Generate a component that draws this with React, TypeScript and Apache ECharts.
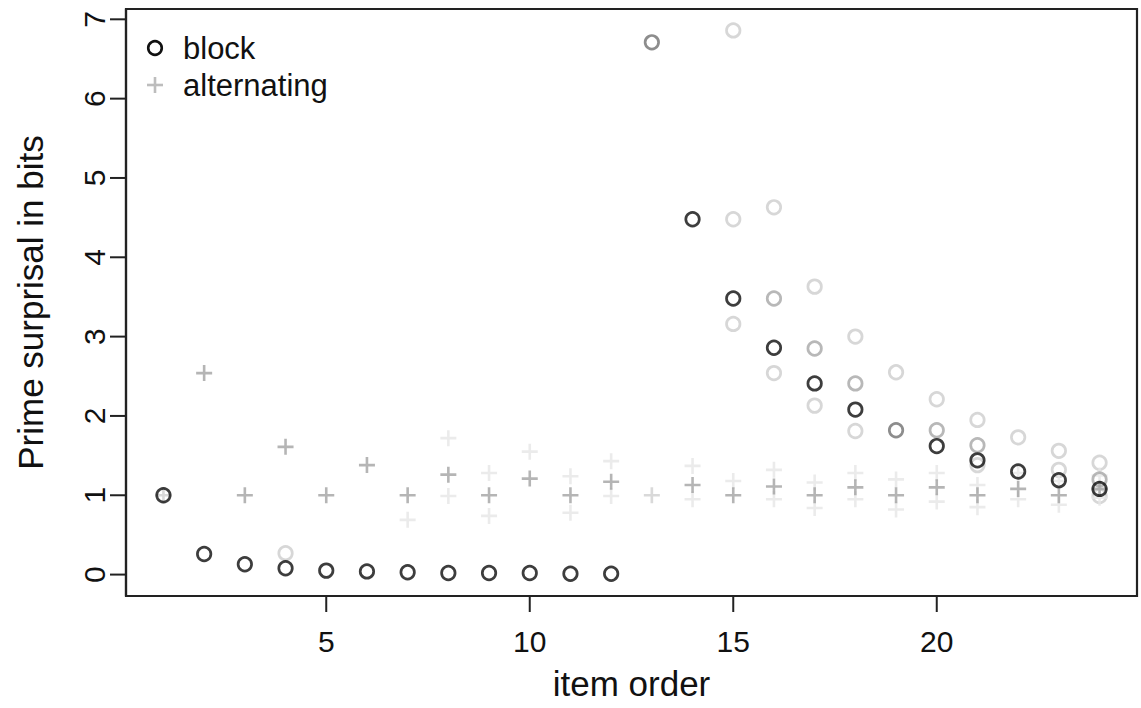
import React, { useEffect, useRef } from "react";
import * as echarts from "echarts";

// ---- data ----
const itemOrder = [1, 2, 3, 4, 5, 6, 7, 8, 9, 10, 11, 12, 13, 14, 15, 16, 17, 18, 19, 20, 21, 22, 23, 24];
// block condition, mean prime surprisal per item order
const blockValues = [1.0, 0.26, 0.13, 0.08, 0.05, 0.04, 0.03, 0.02, 0.02, 0.02, 0.01, 0.01, 6.71, 4.48, 3.48, 2.86, 2.41, 2.08, 1.82, 1.62, 1.44, 1.3, 1.19, 1.08];
// item orders where the block mark is drawn fainter (fewer overlapping lists)
const blockFaintOrders = [13, 19];
// block condition, other lists (medium grey circles) [item order, value]
const blockOtherMid = [[16, 3.48], [17, 2.85], [18, 2.41], [20, 1.82], [21, 1.63], [24, 1.2]];
// block condition, other lists (light grey circles)
const blockOtherLight = [
  [4, 0.27], [15, 6.86], [15, 4.48], [15, 3.16], [16, 4.63], [16, 2.54], [17, 3.63], [17, 2.13],
  [18, 3.0], [18, 1.81], [19, 2.55], [20, 2.21], [21, 1.95], [21, 1.38], [22, 1.73], [23, 1.56],
  [23, 1.32], [24, 1.41], [24, 0.99],
];
// alternating condition, mean per item order
const alternatingValues = [1.0, 2.54, 1.0, 1.61, 1.0, 1.38, 1.0, 1.26, 1.0, 1.21, 1.0, 1.17, 1.0, 1.13, 1.0, 1.11, 1.0, 1.1, 1.0, 1.1, 1.0, 1.08, 1.0, 1.08];
const alternatingLightOrders = [1, 13];
// alternating condition, other lists (faint crosses)
const alternatingOther = [
  [7, 0.69], [8, 1.72], [8, 0.99], [9, 1.28], [9, 0.74], [10, 1.55], [11, 1.24], [11, 0.78],
  [12, 1.43], [12, 0.99], [14, 1.37], [14, 0.95], [15, 1.18], [16, 1.32], [16, 0.95], [17, 1.16],
  [17, 0.84], [18, 1.28], [18, 0.95], [19, 1.2], [19, 0.82], [20, 1.28], [20, 0.92], [21, 1.13],
  [21, 0.85], [22, 1.28], [22, 0.95], [23, 1.18], [23, 0.88], [24, 1.25], [24, 0.97],
];
const xTicks = [5, 10, 15, 20];
const yTicks = [0, 1, 2, 3, 4, 5, 6, 7];

const X_MIN = 0.08;
const X_MAX = 24.92;
const Y_MIN = -0.27;
const Y_MAX = 7.13;

const FONT = "'Liberation Sans', Arial, Helvetica, sans-serif";
const PLUS = "path://M6.7,0H9.3V6.7H16V9.3H9.3V16H6.7V9.3H0V6.7H6.7Z";
const TICK_LEN = 16;

export default function App() {
  const ref = useRef<HTMLDivElement>(null);
  useEffect(() => {
    if (!ref.current) return;
    const chart = echarts.init(ref.current, null, { renderer: "svg" });
    const circleStyle = (c: string) => ({ color: "rgba(0,0,0,0)", borderColor: c, borderWidth: 2.7 });
    const blockData = itemOrder.map((x, i) => {
      const faint = blockFaintOrders.indexOf(x) >= 0;
      return { value: [x, blockValues[i]], itemStyle: circleStyle(faint ? "#707070" : "#0d0d0d") };
    });
    const altData = itemOrder.map((x, i) => {
      const light = alternatingLightOrders.indexOf(x) >= 0;
      return { value: [x, alternatingValues[i]], itemStyle: { color: light ? "#cfcfcf" : "#a3a3a3" } };
    });
    const textStyle = { fontFamily: FONT, fontSize: 31, fill: "#111" };
    const axisLine = { show: true, onZero: false, lineStyle: { color: "#222", width: 2.2 } };
    const legendGraphics = [
      { type: "circle", shape: { cx: 155, cy: 48, r: 6.8 }, style: { fill: "none", stroke: "#111", lineWidth: 2.6 }, z: 10 },
      { type: "text", x: 183, y: 48, style: { ...textStyle, text: "block", verticalAlign: "middle" }, z: 10 },
      { type: "rect", shape: { x: 147, y: 83.7, width: 16, height: 2.6 }, style: { fill: "#bdbdbd" }, z: 10 },
      { type: "rect", shape: { x: 153.7, y: 77, width: 2.6, height: 16 }, style: { fill: "#bdbdbd" }, z: 10 },
      { type: "text", x: 183, y: 85, style: { ...textStyle, text: "alternating", verticalAlign: "middle" }, z: 10 },
    ];
    chart.setOption({
      animation: false,
      backgroundColor: "#ffffff",
      grid: { left: 126, right: 4, top: 9, bottom: 112, show: true, borderColor: "#222", borderWidth: 2.2 },
      xAxis: {
        type: "value",
        min: X_MIN,
        max: X_MAX,
        name: "item order",
        nameLocation: "middle",
        nameGap: 70,
        nameTextStyle: { fontFamily: FONT, fontSize: 35, color: "#111" },
        axisLine,
        splitLine: { show: false },
        axisTick: { show: false },
        axisLabel: { customValues: xTicks, margin: 30, fontFamily: FONT, fontSize: 30, color: "#111" },
      },
      yAxis: {
        type: "value",
        min: Y_MIN,
        max: Y_MAX,
        name: "Prime surprisal in bits",
        nameLocation: "middle",
        nameRotate: 90,
        nameGap: 78,
        nameTextStyle: { fontFamily: FONT, fontSize: 35, color: "#111" },
        axisLine,
        splitLine: { show: false },
        axisTick: { show: false },
        axisLabel: { customValues: yTicks, rotate: 90, margin: 17, fontFamily: FONT, fontSize: 30, color: "#111" },
      },
      series: [
        { type: "scatter", name: "block other light", silent: true, symbol: "circle", symbolSize: 13.5, data: blockOtherLight, itemStyle: circleStyle("#cdcdcd"), z: 1 },
        { type: "scatter", name: "alternating other", silent: true, symbol: PLUS, symbolSize: 16, data: alternatingOther, itemStyle: { color: "#e6e6e6" }, z: 2 },
        { type: "scatter", name: "alternating", silent: true, symbol: PLUS, symbolSize: 16, data: altData, z: 3 },
        { type: "scatter", name: "block other mid", silent: true, symbol: "circle", symbolSize: 13.5, data: blockOtherMid, itemStyle: circleStyle("#a6a6a6"), z: 4 },
        { type: "scatter", name: "block", silent: true, symbol: "circle", symbolSize: 13.5, data: blockData, z: 5 },
      ],
      graphic: legendGraphics,
    });
    // axis tick marks placed through the chart's own scales
    const tickStyle = { stroke: "#222", lineWidth: 2 };
    const tickGraphics: any[] = [];
    xTicks.forEach((v) => {
      const p = chart.convertToPixel({ gridIndex: 0 }, [v, Y_MIN]) as number[];
      tickGraphics.push({ type: "line", shape: { x1: p[0], y1: p[1], x2: p[0], y2: p[1] + TICK_LEN }, style: tickStyle, z: 10 });
    });
    yTicks.forEach((v) => {
      const p = chart.convertToPixel({ gridIndex: 0 }, [X_MIN, v]) as number[];
      tickGraphics.push({ type: "line", shape: { x1: p[0] - TICK_LEN, y1: p[1], x2: p[0], y2: p[1] }, style: tickStyle, z: 10 });
    });
    chart.setOption({ graphic: [...legendGraphics, ...tickGraphics] });
    return () => chart.dispose();
  }, []);
  return <div ref={ref} style={{ position: "absolute", left: 0, top: 0, width: 1141, height: 708 }} />;
}
